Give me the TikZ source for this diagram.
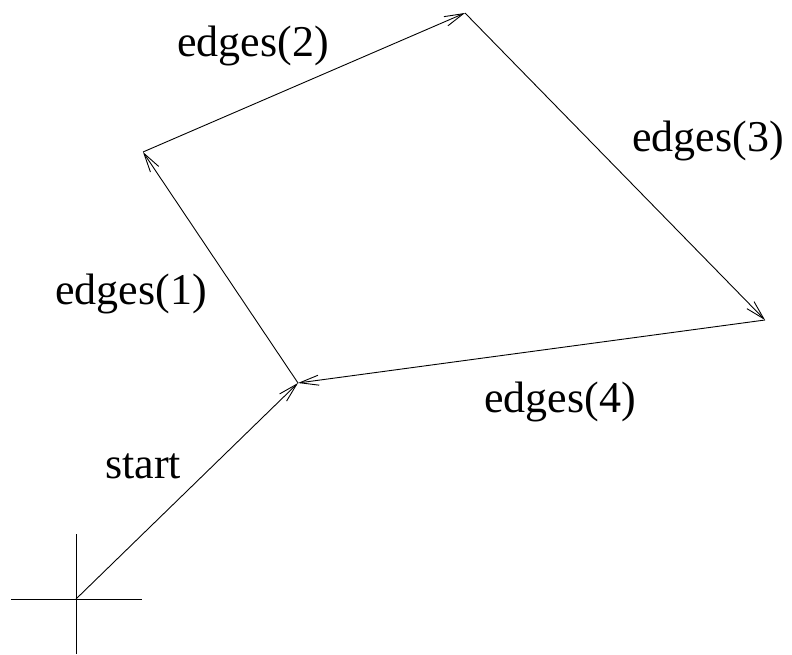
\documentclass[tikz,border=0pt]{standalone}
\usepackage{fontspec}
\setmainfont{Liberation Serif}
\usetikzlibrary{arrows.meta}
\begin{document}
\begin{tikzpicture}[x=1pt,y=-1pt,
  vec/.style={line width=0.9pt,-{Straight Barb[length=19pt,width=10pt,line width=0.9pt]}},
  axis/.style={line width=1pt},
  lbl/.style={font=\fontsize{44}{52}\selectfont,inner sep=0pt,anchor=base}]
\useasboundingbox (0,0) rectangle (792,655);
\coordinate (O) at (76,599);
\coordinate (A) at (298,383);
\coordinate (B) at (143,152);
\coordinate (C) at (465,13);
\coordinate (D) at (765,320);
\coordinate (xl) at (11,599);
\coordinate (xr) at (142,599);
\coordinate (yt) at (76,534);
\coordinate (yb) at (76,654);
\draw[axis] (xl) -- (xr);
\draw[axis] (yt) -- (yb);
\draw[vec] (O) -- (A);
\draw[vec] (A) -- (B);
\draw[vec] (B) -- (C);
\draw[vec] (C) -- (D);
\draw[vec] (D) -- (A);
\node[lbl] (l2) at (253,57) {edges(2)};
\node[lbl] (l3) at (708,152) {edges(3)};
\node[lbl] (l1) at (131,304) {edges(1)};
\node[lbl] (l4) at (560,412) {edges(4)};
\node[lbl] (ls) at (143,478) {start};
\end{tikzpicture}
\end{document}
